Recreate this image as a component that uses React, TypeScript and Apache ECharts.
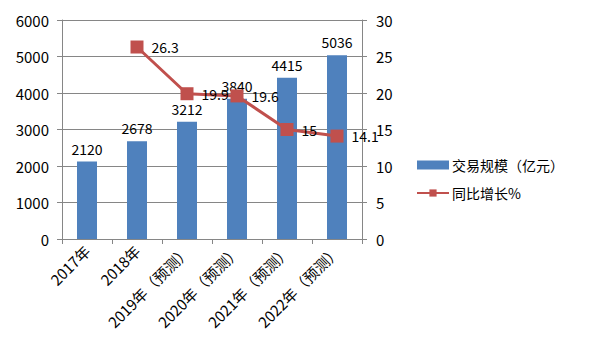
import React, { useEffect, useRef } from "react";
import * as echarts from "echarts";

const categories = ["2017年", "2018年", "2019年（预测）", "2020年（预测）", "2021年（预测）", "2022年（预测）"];
const scaleValues = [2120, 2678, 3212, 3840, 4415, 5036];
const growthValues: (number | null)[] = [null, 26.3, 19.9, 19.6, 15, 14.1];
const leftTicks = { min: 0, max: 6000, interval: 1000 };
const rightTicks = { min: 0, max: 30, interval: 5 };

const FONT = "'Noto Sans CJK SC', 'Noto Sans', sans-serif";

export default function App() {
  const ref = useRef<HTMLDivElement>(null);
  useEffect(() => {
    const chart = echarts.init(ref.current!, null, { renderer: "svg" });
    chart.setOption({
      animation: false,
      backgroundColor: "#fff",
      textStyle: { fontFamily: FONT },
      graphic: [
        { type: "line", shape: { x1: 3, y1: 3, x2: 596, y2: 3 }, style: { stroke: "#8c8c8c", lineWidth: 2 } },
        { type: "line", shape: { x1: 3, y1: 357, x2: 596, y2: 357 }, style: { stroke: "#8c8c8c", lineWidth: 2 } },
        { type: "line", shape: { x1: 3, y1: 3, x2: 3, y2: 357 }, style: { stroke: "#8c8c8c", lineWidth: 2 } },
        { type: "line", shape: { x1: 596, y1: 3, x2: 596, y2: 357 }, style: { stroke: "#8c8c8c", lineWidth: 2 } },
      ],
      grid: { left: 62, right: 238, top: 20, bottom: 122 },
      legend: {
        orient: "vertical",
        left: 411,
        top: 153,
        itemWidth: 32,
        itemHeight: 9,
        itemGap: 14,
        textStyle: { fontSize: 14, color: "#000", fontFamily: FONT, padding: [0, 0, 0, -2] },
        data: [
          { name: "交易规模（亿元）", icon: "rect" },
          { name: "同比增长%" },
        ],
      },
      xAxis: {
        type: "category",
        data: categories,
        axisLine: { lineStyle: { color: "#868686" } },
        axisTick: { show: true, length: 5, lineStyle: { color: "#868686" } },
        axisLabel: { rotate: 45, fontSize: 15, color: "#000", margin: 9, interval: 0 },
      },
      yAxis: [
        {
          type: "value",
          ...leftTicks,
          axisLine: { show: true, lineStyle: { color: "#868686" } },
          axisTick: { show: true, length: 5, lineStyle: { color: "#868686" } },
          splitLine: { lineStyle: { color: "#868686" } },
          axisLabel: { fontSize: 15, color: "#000", margin: 13, formatter: (v: number) => String(v) },
        },
        {
          type: "value",
          ...rightTicks,
          position: "right",
          axisLine: { show: true, lineStyle: { color: "#868686" } },
          axisTick: { show: true, length: 5, lineStyle: { color: "#868686" } },
          splitLine: { show: false },
          axisLabel: { fontSize: 15, color: "#000", margin: 14 },
        },
      ],
      series: [
        {
          name: "交易规模（亿元）",
          type: "bar",
          data: scaleValues,
          barWidth: 20,
          itemStyle: { color: "#4f81bd" },
          label: { show: true, position: "top", distance: 6, fontSize: 14, color: "#000" },
        },
        {
          name: "同比增长%",
          type: "line",
          yAxisIndex: 1,
          data: growthValues,
          symbol: "rect",
          symbolSize: 13,
          lineStyle: { color: "#c0504d", width: 3 },
          itemStyle: { color: "#c0504d" },
          label: { show: true, position: "right", distance: 8, fontSize: 14, color: "#000" },
        },
      ],
    });
    return () => chart.dispose();
  }, []);
  return <div ref={ref} style={{ width: 600, height: 361, margin: -8 }} />;
}
